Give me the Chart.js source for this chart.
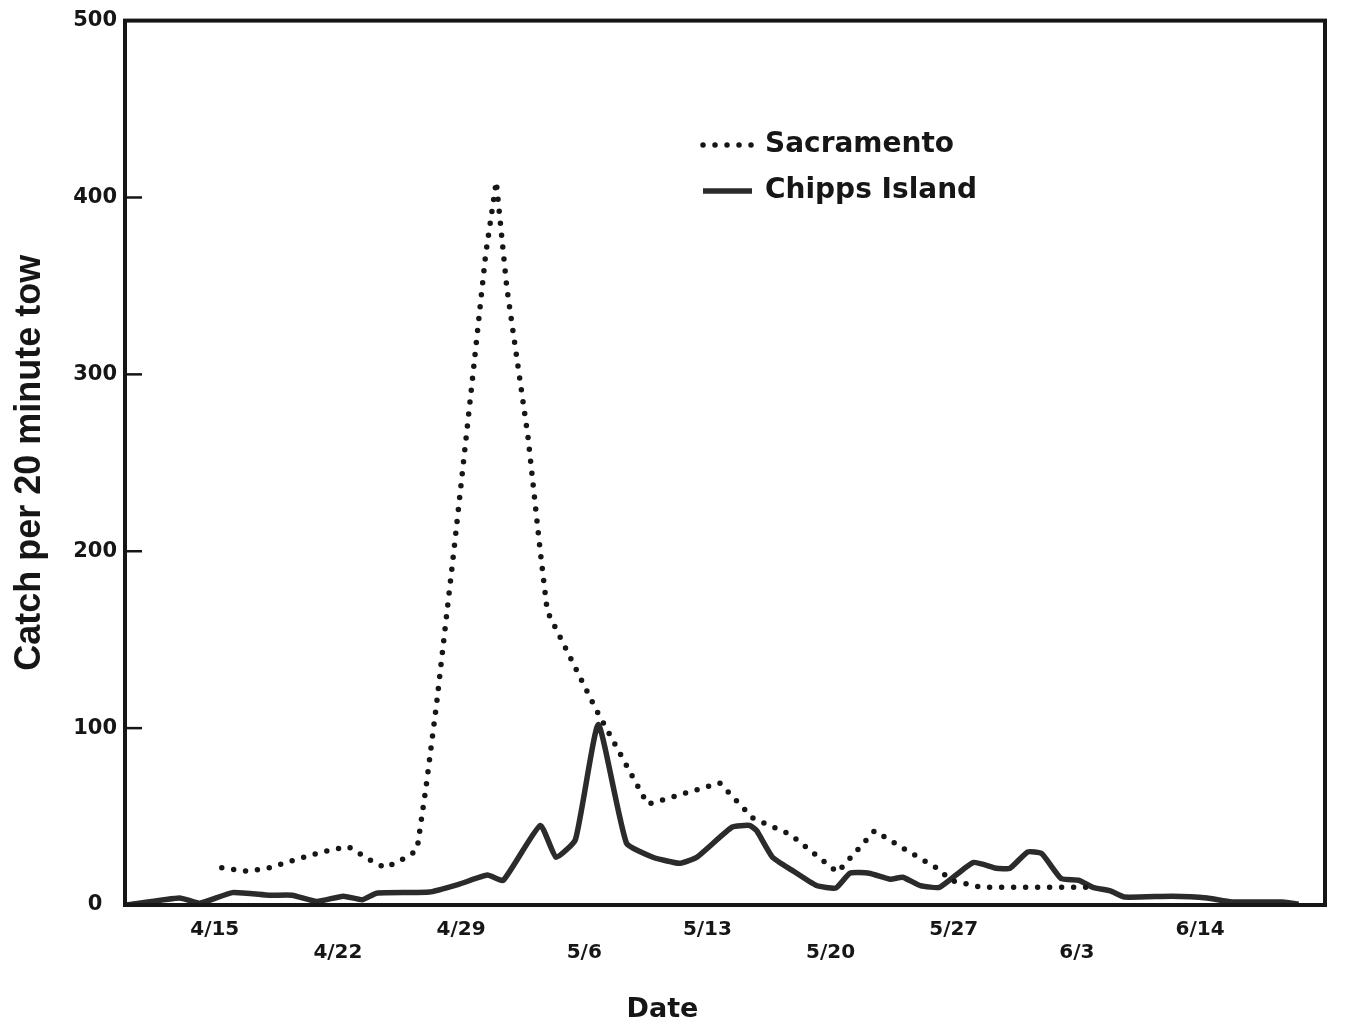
<!DOCTYPE html>
<html>
<head>
<meta charset="utf-8">
<script src="https://cdn.jsdelivr.net/npm/chart.js@4.4.1/dist/chart.umd.min.js"></script>
<style>
  html, body { margin: 0; padding: 0; background: #fff; }
  #wrap { width: 1360px; height: 1026px; }
</style>
</head>
<body>
<div id="wrap"><canvas id="c" width="1360" height="1026"></canvas></div>
<script>
// Day numbers are counted from 4/15 (day 0).
const tickDays   = [0, 7, 14, 21, 28, 35, 42, 49, 56];
const tickLabels = ['4/15', '4/22', '4/29', '5/6', '5/13', '5/20', '5/27', '6/3', '6/14'];
const yTickStep  = 100;
const yMax       = 500;

const sacramentoDays  = [0.4, 1.9, 3.1, 4.7, 6.1, 7.6, 8.9, 9.7, 11.1, 11.5, 12.0, 12.6, 13.6, 14.6, 15.4, 16.0,
                         16.6, 17.8, 18.5, 18.9, 21.7, 24.6, 26.0, 28.7, 30.6, 32.7, 35.4, 37.5, 39.3, 41.2,
                         41.8, 43.6, 48.4, 50.1];
const sacramentoCatch = [21, 19, 21, 26, 30, 33, 25, 21, 28, 31.5, 66, 113, 201, 293, 368, 409,
                         349, 265, 200, 166, 110, 57, 61, 69, 49, 40, 18.5, 42, 31, 20,
                         14, 10, 10, 10];

const chippsDays  = [-5.0, -2.0, -0.85, 1.0, 3.1, 4.4, 5.8, 7.3, 8.4, 9.2, 12.2, 13.9, 15.5, 16.4, 18.5, 19.4,
                     20.5, 21.8, 23.4, 24.9, 26.4, 27.4, 29.4, 30.4, 30.8, 31.7, 32.8, 34.2, 35.3, 36.1,
                     37.2, 38.4, 39.1, 40.1, 41.2, 43.1, 44.4, 45.2, 46.2, 47.0, 48.1, 49.1, 49.9, 50.9,
                     51.7, 54.4, 56.4, 57.8, 60.7, 61.6];
const chippsCatch = [0, 4, 1, 7, 5.5, 5.5, 2, 5, 3, 6.7, 7.3, 11.8, 16.9, 14, 45, 27,
                     37, 102, 35, 27, 23.6, 27, 44, 45, 42, 27, 19.7, 11, 9.6, 18,
                     18, 14.6, 15.7, 11, 10, 24, 20.8, 20.8, 30, 29, 15, 14, 10, 8,
                     4.5, 5, 4, 1.7, 1.7, 0.5];

const INK = '#161616';

const toPoints = (xs, ys) => xs.map((x, i) => ({ x: x, y: ys[i] }));

// Box frame around the plot, plus short inward ticks on the left side
const framePlugin = {
  id: 'frame',
  afterDraw(chart) {
    const { ctx, chartArea: a, scales } = chart;
    ctx.save();
    ctx.strokeStyle = INK;
    ctx.lineWidth = 2.5;
    for (let v = yTickStep; v < yMax; v += yTickStep) {
      const y = scales.y.getPixelForValue(v);
      ctx.beginPath();
      ctx.moveTo(a.left, y);
      ctx.lineTo(a.left + 17, y);
      ctx.stroke();
    }
    ctx.lineWidth = 4;
    ctx.strokeRect(a.left, a.top, a.right - a.left, a.bottom - a.top);
    ctx.restore();
  }
};

// Legend drawn inside the plot, using each dataset's own line style
const insideLegend = {
  id: 'insideLegend',
  afterDraw(chart) {
    const { ctx } = chart;
    ctx.save();
    chart.data.datasets.forEach((ds, i) => {
      const y = 145 + i * 46;
      ctx.strokeStyle = ds.borderColor;
      ctx.lineWidth = ds.borderWidth;
      ctx.lineCap = ds.borderCapStyle || 'butt';
      ctx.setLineDash(ds.borderDash || []);
      ctx.beginPath();
      ctx.moveTo(703, y);
      ctx.lineTo(752, y);
      ctx.stroke();
      ctx.setLineDash([]);
      ctx.fillStyle = INK;
      ctx.font = 'bold 28px "DejaVu Sans"';
      ctx.textBaseline = 'middle';
      ctx.textAlign = 'left';
      ctx.fillText(ds.label, 765, y);
    });
    ctx.restore();
  }
};

new Chart(document.getElementById('c'), {
  type: 'line',
  data: {
    datasets: [
      {
        label: 'Sacramento',
        data: toPoints(sacramentoDays, sacramentoCatch),
        borderColor: INK,
        borderWidth: 5.5,
        borderDash: [0, 12],
        borderCapStyle: 'round',
        pointRadius: 0,
        tension: 0,
        fill: false
      },
      {
        label: 'Chipps Island',
        data: toPoints(chippsDays, chippsCatch),
        borderColor: '#2b2b2b',
        borderWidth: 5.5,
        borderJoinStyle: 'round',
        pointRadius: 0,
        tension: 0.15,
        fill: false
      }
    ]
  },
  options: {
    responsive: false,
    animation: false,
    devicePixelRatio: 1,
    layout: { padding: { top: 16, right: 35, left: 0, bottom: 0 } },
    plugins: {
      legend: { display: false },
      tooltip: { enabled: false },
      title: {
        display: true,
        text: 'Date',
        position: 'bottom',
        color: INK,
        font: { family: 'DejaVu Sans', size: 27, weight: 'bold', lineHeight: 1.2 },
        padding: { top: 0, bottom: 0 }
      }
    },
    scales: {
      x: {
        type: 'linear',
        min: -5.1,
        max: 63.1,
        grid: { display: false, drawTicks: false },
        border: { display: false },
        afterBuildTicks(scale) {
          scale.ticks = tickDays.map(v => ({ value: v }));
        },
        afterFit(scale) { scale.height = 88.6; },
        ticks: {
          autoSkip: false,
          maxRotation: 0,
          padding: 13,
          color: INK,
          font: { family: 'DejaVu Sans', size: 20, weight: 'bold', lineHeight: 1.15 },
          callback(value) {
            const i = tickDays.indexOf(value);
            if (i < 0) return '';
            return i % 2 ? ['', tickLabels[i]] : tickLabels[i];
          }
        }
      },
      y: {
        min: 0,
        max: yMax,
        grid: { display: false, drawTicks: false },
        border: { display: false },
        afterFit(scale) { scale.width = 125; },
        ticks: {
          stepSize: yTickStep,
          crossAlign: 'center',
          padding: 8,
          color: INK,
          font: { family: 'DejaVu Sans', size: 21, weight: 'bold' }
        },
        title: {
          display: true,
          text: 'Catch per 20 minute tow',
          color: INK,
          font: { family: 'Liberation Sans', size: 36, weight: 'bold', lineHeight: 1.2 },
          padding: { top: 8, bottom: 0 }
        }
      }
    }
  },
  plugins: [framePlugin, insideLegend]
});
</script>
</body>
</html>
